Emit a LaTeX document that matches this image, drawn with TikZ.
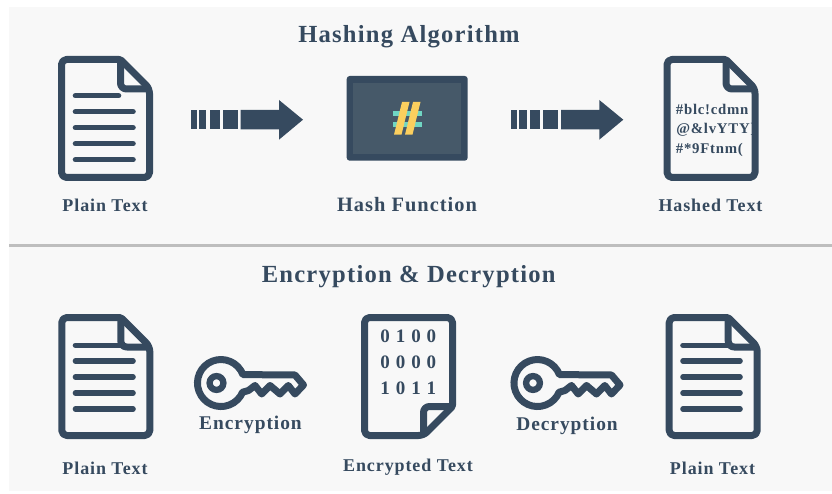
\documentclass[tikz,border=0pt]{standalone}
\usepackage{fontspec}
\setmainfont{Liberation Serif}
\newfontfamily\lblf[LetterSpace=5]{Liberation Serif}
\newfontfamily\lblg[LetterSpace=5]{Liberation Serif}
\newfontfamily\lblh[LetterSpace=6]{Liberation Serif}
\definecolor{navy}{HTML}{364A5F}
\definecolor{panelbg}{HTML}{F8F8F8}
\definecolor{rulegray}{HTML}{BEBEBE}
\definecolor{screen}{HTML}{465969}
\definecolor{hashyellow}{HTML}{FBCF5E}
\definecolor{hashteal}{HTML}{70D6C3}
\tikzset{
  x=1pt,y=1pt,
  icon/.style={draw=navy,line width=7pt,line join=round},
  textline/.style={draw=navy,line width=5.6pt,line cap=round},
  keyline/.style={draw=navy,line width=7pt,line join=round},
  title/.style={text=navy,inner sep=0pt,font=\fontsize{24.6}{25}\lblf\bfseries},
  lab/.style={text=navy,inner sep=0pt,font=\fontsize{18}{18}\lblg\bfseries},
  keylab/.style={text=navy,inner sep=0pt,font=\fontsize{19.4}{19}\lblf\bfseries},
  codeline/.style={text=navy,inner sep=0pt,anchor=west,font=\fontsize{14.8}{15}\lblf\bfseries},
  bits/.style={text=navy,inner sep=0pt,font=\fontsize{19}{19}\lblh\bfseries},
}
\newcommand\mydoc{%
  \draw[icon,rounded corners=5pt] (30,0) -- (0,0) -- (0,118) -- (88,118) -- (88,29) [rounded corners=1.5pt] -- (59,0) -- cycle;
  \draw[icon,rounded corners=6pt] (59,0) -- (59,29.5) -- (88,29.5);
}
\newcommand\mykey{%
  \draw[keyline] (242.9,374.6) arc[start angle=-21,end angle=-337,radius=23.5]
    -- (248.5,390.5) -- (255,385.5) -- (261.7,394) -- (270,385.5) -- (280,394) -- (288.3,385.5) -- (295,394)
    -- (303.5,385) -- (295,375) -- cycle;
  \draw[draw=navy,line width=6.3pt] (216.5,383) circle[radius=6.9];
}
\newcommand\myarrow{%
  \fill[navy] (190.7,110) rectangle (196.7,129.3);
  \fill[navy] (199,110) rectangle (206.3,129.3);
  \fill[navy] (209.7,110) rectangle (220,129.3);
  \fill[navy] (223,110) rectangle (238,129.3);
  \fill[navy] (240.7,110) -- (279,110) -- (279,100) -- (303,119.7) -- (279,139.7) -- (279,129.3) -- (240.7,129.3) -- cycle;
}
\begin{document}
\begin{tikzpicture}[yscale=-1]
\useasboundingbox (0,0) rectangle (832,494);
\fill[panelbg] (9,7) rectangle (832,491);
\draw[rulegray,line width=2.2pt] (9,245.5) -- (832,245.5);

\node[title] (title1) at (409,36.5) {Hashing Algorithm};
\node[title] (title2) at (408.7,276.5) {Encryption \& Decryption};

% top row
\begin{scope}[shift={(61.5,59.5)}]\mydoc\end{scope}
\draw[textline] (75.5,95.7) -- (118.5,95.7);
\draw[textline] (75.5,111.7) -- (133,111.7);
\draw[textline] (75.5,127.7) -- (133,127.7);
\draw[textline] (75.5,143.6) -- (133,143.6);
\draw[textline] (75.5,159.6) -- (133,159.6);
\node[lab] (plain1) at (105,205) {Plain Text};
\myarrow

\fill[navy,rounded corners=3pt] (346.7,76) rectangle (467.7,160.7);
\fill[screen] (352.7,82.7) rectangle (461.3,154.3);
\fill[hashteal] (393.3,111) rectangle (421.7,115.7);
\fill[hashteal] (393.3,122.3) rectangle (421.7,126.7);
\fill[hashyellow] (394,134.7) -- (401.5,134.7) -- (409.5,102) -- (402,102) -- cycle;
\fill[hashyellow] (405,134.7) -- (412.5,134.7) -- (420.5,102) -- (413,102) -- cycle;
\node[lab,font=\fontsize{20.4}{20}\lblf\bfseries] (hashfn) at (407,204.5) {Hash Function};
\begin{scope}[shift={(320.3,0)}]\myarrow\end{scope}

\node[codeline] (code1) at (675.7,109.8) {\#blc!cdmn};
\node[codeline] (code2) at (676.2,129.7) {@\&lvYTY\}};
\node[codeline] (code3) at (675.7,149.5) {\#*9Ftnm(};
\begin{scope}[shift={(667,59.5)}]\mydoc\end{scope}
\node[lab] (hashed) at (710.5,205) {Hashed Text};

% bottom row
\begin{scope}[shift={(61.8,317.5)}]\mydoc\end{scope}
\draw[textline] (75.5,345.3) -- (122,345.3);
\draw[textline] (75.5,361) -- (133,361);
\draw[textline] (75.5,377) -- (133,377);
\draw[textline] (75.5,393) -- (133,393);
\draw[textline] (75.5,409) -- (133,409);
\node[lab] (plain2) at (105,468) {Plain Text};

\mykey
\node[keylab] (enc) at (250.5,425) {Encryption};

\draw[icon,rounded corners=5pt] (400,317.5) -- (364.5,317.5) -- (364.5,435.5) -- (423.5,435.5) [rounded corners=1.5pt] -- (452.5,406.5) [rounded corners=5pt] -- (452.5,317.5) -- cycle;
\draw[icon,rounded corners=6pt] (452.5,406.5) -- (423.5,406.5) -- (423.5,435.5);
\node[bits] (b1) at (408.3,336) {0 1 0 0};
\node[bits] (b2) at (408.3,362) {0 0 0 0};
\node[bits] (b3) at (408.3,388) {1 0 1 1};
\node[lab] (enctext) at (408,467) {Encrypted Text};

\begin{scope}[shift={(316.5,0)}]\mykey\end{scope}
\node[keylab] (dec) at (567,426) {Decryption};

\begin{scope}[shift={(669.2,317.5)}]\mydoc\end{scope}
\draw[textline] (683,345.3) -- (729,345.3);
\draw[textline] (683,361) -- (740,361);
\draw[textline] (683,377) -- (740,377);
\draw[textline] (683,393) -- (740,393);
\draw[textline] (683,409) -- (740,409);
\node[lab] (plain3) at (712.5,468) {Plain Text};
\end{tikzpicture}
\end{document}
